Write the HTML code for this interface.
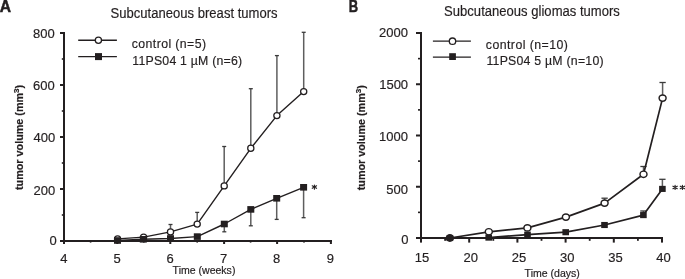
<!DOCTYPE html>
<html><head><meta charset="utf-8"><style>
html,body{margin:0;padding:0;background:#fff;}
body{width:685px;height:279px;overflow:hidden;}
svg{display:block;will-change:transform;font-family:"Liberation Sans",sans-serif;}
text{fill:#231f20;stroke:#231f20;stroke-width:0.18px;}
</style></head><body>
<svg width="685" height="279" viewBox="0 0 685 279">
<rect x="63" y="32" width="2" height="210" fill="#231f20"/>
<rect x="63" y="240" width="269" height="2" fill="#231f20"/>
<rect x="60" y="240.00" width="4" height="2" fill="#231f20"/>
<rect x="60" y="188.00" width="4" height="2" fill="#231f20"/>
<rect x="60" y="136.00" width="4" height="2" fill="#231f20"/>
<rect x="60" y="84.00" width="4" height="2" fill="#231f20"/>
<rect x="60" y="32.00" width="4" height="2" fill="#231f20"/>
<rect x="61.8" y="214.20" width="2" height="1.6" fill="#231f20"/>
<rect x="61.8" y="162.20" width="2" height="1.6" fill="#231f20"/>
<rect x="61.8" y="110.20" width="2" height="1.6" fill="#231f20"/>
<rect x="61.8" y="58.20" width="2" height="1.6" fill="#231f20"/>
<rect x="63.00" y="241" width="2" height="3" fill="#231f20"/>
<rect x="116.30" y="241" width="2" height="3" fill="#231f20"/>
<rect x="169.30" y="241" width="2" height="3" fill="#231f20"/>
<rect x="223.10" y="241" width="2" height="3" fill="#231f20"/>
<rect x="276.10" y="241" width="2" height="3" fill="#231f20"/>
<rect x="329.90" y="241" width="2" height="3" fill="#231f20"/>
<rect x="89.80" y="241" width="1.6" height="1.6" fill="#231f20"/>
<rect x="143.00" y="241" width="1.6" height="1.6" fill="#231f20"/>
<rect x="196.40" y="241" width="1.6" height="1.6" fill="#231f20"/>
<rect x="249.80" y="241" width="1.6" height="1.6" fill="#231f20"/>
<rect x="303.20" y="241" width="1.6" height="1.6" fill="#231f20"/>
<rect x="420" y="32" width="2" height="207" fill="#231f20"/>
<rect x="420" y="237" width="243" height="2" fill="#231f20"/>
<rect x="416" y="237.00" width="5" height="2" fill="#231f20"/>
<rect x="416" y="185.75" width="5" height="2" fill="#231f20"/>
<rect x="416" y="134.50" width="5" height="2" fill="#231f20"/>
<rect x="416" y="83.25" width="5" height="2" fill="#231f20"/>
<rect x="416" y="32.00" width="5" height="2" fill="#231f20"/>
<rect x="418" y="211.57" width="3" height="1.6" fill="#231f20"/>
<rect x="418" y="160.32" width="3" height="1.6" fill="#231f20"/>
<rect x="418" y="109.08" width="3" height="1.6" fill="#231f20"/>
<rect x="418" y="57.83" width="3" height="1.6" fill="#231f20"/>
<rect x="420.00" y="238" width="2" height="4.6" fill="#231f20"/>
<rect x="468.20" y="238" width="2" height="4.6" fill="#231f20"/>
<rect x="516.40" y="238" width="2" height="4.6" fill="#231f20"/>
<rect x="564.60" y="238" width="2" height="4.6" fill="#231f20"/>
<rect x="612.80" y="238" width="2" height="4.6" fill="#231f20"/>
<rect x="661.00" y="238" width="2" height="4.6" fill="#231f20"/>
<rect x="444.20" y="238" width="1.8" height="2.8" fill="#231f20"/>
<rect x="492.40" y="238" width="1.8" height="2.8" fill="#231f20"/>
<rect x="540.60" y="238" width="1.8" height="2.8" fill="#231f20"/>
<rect x="588.80" y="238" width="1.8" height="2.8" fill="#231f20"/>
<rect x="637.00" y="238" width="1.8" height="2.8" fill="#231f20"/>
<line x1="170.5" y1="231.9" x2="170.5" y2="224.5" stroke="#5e5e5e" stroke-width="1.5"/>
<line x1="168.5" y1="224.5" x2="172.5" y2="224.5" stroke="#3a3a3a" stroke-width="1.3"/>
<line x1="197.2" y1="224.1" x2="197.2" y2="212.4" stroke="#5e5e5e" stroke-width="1.5"/>
<line x1="195.2" y1="212.4" x2="199.2" y2="212.4" stroke="#3a3a3a" stroke-width="1.3"/>
<line x1="224.2" y1="185.9" x2="224.2" y2="146.5" stroke="#5e5e5e" stroke-width="1.5"/>
<line x1="222.2" y1="146.5" x2="226.2" y2="146.5" stroke="#3a3a3a" stroke-width="1.3"/>
<line x1="250.8" y1="148.3" x2="250.8" y2="88.7" stroke="#5e5e5e" stroke-width="1.5"/>
<line x1="248.8" y1="88.7" x2="252.8" y2="88.7" stroke="#3a3a3a" stroke-width="1.3"/>
<line x1="276.9" y1="115.6" x2="276.9" y2="55.6" stroke="#5e5e5e" stroke-width="1.5"/>
<line x1="274.9" y1="55.6" x2="278.9" y2="55.6" stroke="#3a3a3a" stroke-width="1.3"/>
<line x1="303.7" y1="91.6" x2="303.7" y2="32.3" stroke="#5e5e5e" stroke-width="1.5"/>
<line x1="301.7" y1="32.3" x2="305.7" y2="32.3" stroke="#3a3a3a" stroke-width="1.3"/>
<line x1="224.3" y1="224.0" x2="224.3" y2="231.8" stroke="#5e5e5e" stroke-width="1.5"/>
<line x1="222.3" y1="231.8" x2="226.3" y2="231.8" stroke="#3a3a3a" stroke-width="1.3"/>
<line x1="250.8" y1="209.4" x2="250.8" y2="225.8" stroke="#5e5e5e" stroke-width="1.5"/>
<line x1="248.8" y1="225.8" x2="252.8" y2="225.8" stroke="#3a3a3a" stroke-width="1.3"/>
<line x1="276.7" y1="198.3" x2="276.7" y2="219.4" stroke="#5e5e5e" stroke-width="1.5"/>
<line x1="274.7" y1="219.4" x2="278.7" y2="219.4" stroke="#3a3a3a" stroke-width="1.3"/>
<line x1="303.6" y1="187.3" x2="303.6" y2="217.7" stroke="#5e5e5e" stroke-width="1.5"/>
<line x1="301.6" y1="217.7" x2="305.6" y2="217.7" stroke="#3a3a3a" stroke-width="1.3"/>
<path d="M117.6,238.9 L143.6,237.1 L170.5,231.9 L197.2,224.1 L224.2,185.9 L250.8,148.3 L276.9,115.6 L303.7,91.6" fill="none" stroke="#231f20" stroke-width="1.4" stroke-linejoin="round"/>
<ellipse cx="117.6" cy="238.9" rx="3.1" ry="3.1" fill="#fff" stroke="#231f20" stroke-width="1.25"/>
<ellipse cx="143.6" cy="237.1" rx="3.1" ry="3.1" fill="#fff" stroke="#231f20" stroke-width="1.25"/>
<ellipse cx="170.5" cy="231.9" rx="3.1" ry="3.1" fill="#fff" stroke="#231f20" stroke-width="1.25"/>
<ellipse cx="197.2" cy="224.1" rx="3.1" ry="3.1" fill="#fff" stroke="#231f20" stroke-width="1.25"/>
<ellipse cx="224.2" cy="185.9" rx="3.1" ry="3.1" fill="#fff" stroke="#231f20" stroke-width="1.25"/>
<ellipse cx="250.8" cy="148.3" rx="3.1" ry="3.1" fill="#fff" stroke="#231f20" stroke-width="1.25"/>
<ellipse cx="276.9" cy="115.6" rx="3.1" ry="3.1" fill="#fff" stroke="#231f20" stroke-width="1.25"/>
<ellipse cx="303.7" cy="91.6" rx="3.1" ry="3.1" fill="#fff" stroke="#231f20" stroke-width="1.25"/>
<path d="M117.5,240.5 L143.3,239.3 L170.5,238.5 L197.3,236.6 L224.3,224.0 L250.8,209.4 L276.7,198.3 L303.6,187.3" fill="none" stroke="#231f20" stroke-width="1.4" stroke-linejoin="round"/>
<rect x="114.00" y="237.20" width="7" height="6.6" fill="#231f20"/>
<rect x="139.80" y="236.00" width="7" height="6.6" fill="#231f20"/>
<rect x="167.00" y="235.20" width="7" height="6.6" fill="#231f20"/>
<rect x="193.80" y="233.30" width="7" height="6.6" fill="#231f20"/>
<rect x="220.80" y="220.70" width="7" height="6.6" fill="#231f20"/>
<rect x="247.30" y="206.10" width="7" height="6.6" fill="#231f20"/>
<rect x="273.20" y="195.00" width="7" height="6.6" fill="#231f20"/>
<rect x="300.10" y="184.00" width="7" height="6.6" fill="#231f20"/>
<line x1="604.6" y1="203.1" x2="604.6" y2="198.2" stroke="#5e5e5e" stroke-width="1.5"/>
<line x1="601.45" y1="198.2" x2="607.75" y2="198.2" stroke="#3a3a3a" stroke-width="1.3"/>
<line x1="643.5" y1="174.3" x2="643.5" y2="166.5" stroke="#5e5e5e" stroke-width="1.5"/>
<line x1="640.35" y1="166.5" x2="646.65" y2="166.5" stroke="#3a3a3a" stroke-width="1.3"/>
<line x1="662.6" y1="98.1" x2="662.6" y2="82.5" stroke="#5e5e5e" stroke-width="1.5"/>
<line x1="659.45" y1="82.5" x2="665.75" y2="82.5" stroke="#3a3a3a" stroke-width="1.3"/>
<line x1="643.4" y1="215.1" x2="643.4" y2="211.0" stroke="#5e5e5e" stroke-width="1.5"/>
<line x1="640.25" y1="211.0" x2="646.55" y2="211.0" stroke="#3a3a3a" stroke-width="1.3"/>
<line x1="662.4" y1="188.9" x2="662.4" y2="179.3" stroke="#5e5e5e" stroke-width="1.5"/>
<line x1="659.25" y1="179.3" x2="665.55" y2="179.3" stroke="#3a3a3a" stroke-width="1.3"/>
<path d="M449.9,238 L488.8,231.8 L527.4,227.9 L565.9,217.1 L604.6,203.1 L643.5,174.3 L662.6,98.1" fill="none" stroke="#231f20" stroke-width="1.7" stroke-linejoin="round"/>
<ellipse cx="449.9" cy="238" rx="3.5" ry="3.2" fill="#fff" stroke="#231f20" stroke-width="1.45"/>
<ellipse cx="488.8" cy="231.8" rx="3.5" ry="3.2" fill="#fff" stroke="#231f20" stroke-width="1.45"/>
<ellipse cx="527.4" cy="227.9" rx="3.5" ry="3.2" fill="#fff" stroke="#231f20" stroke-width="1.45"/>
<ellipse cx="565.9" cy="217.1" rx="3.5" ry="3.2" fill="#fff" stroke="#231f20" stroke-width="1.45"/>
<ellipse cx="604.6" cy="203.1" rx="3.5" ry="3.2" fill="#fff" stroke="#231f20" stroke-width="1.45"/>
<ellipse cx="643.5" cy="174.3" rx="3.5" ry="3.2" fill="#fff" stroke="#231f20" stroke-width="1.45"/>
<ellipse cx="662.6" cy="98.1" rx="3.5" ry="3.2" fill="#fff" stroke="#231f20" stroke-width="1.45"/>
<path d="M449.9,238 L488.7,237.6 L527.5,234.6 L565.7,232.2 L604.5,225 L643.4,215.1 L662.4,188.9" fill="none" stroke="#231f20" stroke-width="1.7" stroke-linejoin="round"/>
<rect x="446.60" y="234.95" width="6.6" height="6.1" fill="#231f20"/>
<rect x="485.40" y="234.55" width="6.6" height="6.1" fill="#231f20"/>
<rect x="524.20" y="231.55" width="6.6" height="6.1" fill="#231f20"/>
<rect x="562.40" y="229.15" width="6.6" height="6.1" fill="#231f20"/>
<rect x="601.20" y="221.95" width="6.6" height="6.1" fill="#231f20"/>
<rect x="640.10" y="212.05" width="6.6" height="6.1" fill="#231f20"/>
<rect x="659.10" y="185.85" width="6.6" height="6.1" fill="#231f20"/>
<line x1="78.2" y1="40.3" x2="116.9" y2="40.3" stroke="#231f20" stroke-width="1.4"/>
<circle cx="98.4" cy="40.3" r="3.1" fill="#fff" stroke="#231f20" stroke-width="1.25"/>
<line x1="78.2" y1="56.6" x2="116.9" y2="56.6" stroke="#231f20" stroke-width="1.4"/>
<rect x="95" y="53.1" width="7" height="7" fill="#231f20"/>
<line x1="432.9" y1="41.1" x2="470.9" y2="41.1" stroke="#231f20" stroke-width="1.4"/>
<circle cx="452.5" cy="41.2" r="3.2" fill="#fff" stroke="#231f20" stroke-width="1.3"/>
<line x1="432.9" y1="57.1" x2="470.9" y2="57.1" stroke="#231f20" stroke-width="1.4"/>
<rect x="449.2" y="53.2" width="6.7" height="6.8" fill="#231f20"/>
<text x="-0.2" y="11.6" font-size="16" font-weight="bold" textLength="11.3" lengthAdjust="spacingAndGlyphs" text-anchor="start" style="stroke-width:0.5px">A</text>
<text x="348.8" y="11.7" font-size="16" font-weight="bold" textLength="9.4" lengthAdjust="spacingAndGlyphs" text-anchor="start" style="stroke-width:0.5px">B</text>
<text transform="translate(110.6,17.6) scale(0.94,1)" font-size="13.9" textLength="177.66" lengthAdjust="spacing">Subcutaneous breast tumors</text>
<text transform="translate(444.1,16.2) scale(0.94,1)" font-size="13.9" textLength="187.02" lengthAdjust="spacing">Subcutaneous gliomas tumors</text>
<text x="54.8" y="38.1" font-size="13" text-anchor="end">800</text>
<text x="54.8" y="90.3" font-size="13" text-anchor="end">600</text>
<text x="55.3" y="142" font-size="13" text-anchor="end">400</text>
<text x="55.3" y="194.5" font-size="13" text-anchor="end">200</text>
<text x="56.699999999999996" y="245" font-size="13" text-anchor="end">0</text>
<text x="407.90000000000003" y="37" font-size="13" text-anchor="end">2000</text>
<text x="408.1" y="89.4" font-size="13" text-anchor="end">1500</text>
<text x="407.90000000000003" y="140.7" font-size="13" text-anchor="end">1000</text>
<text x="407.90000000000003" y="194" font-size="13" text-anchor="end">500</text>
<text x="408.6" y="243.7" font-size="13" text-anchor="end">0</text>
<text x="63.8" y="263" font-size="13" text-anchor="middle">4</text>
<text x="117.2" y="263" font-size="13" text-anchor="middle">5</text>
<text x="170" y="263" font-size="13" text-anchor="middle">6</text>
<text x="223.5" y="263" font-size="13" text-anchor="middle">7</text>
<text x="276.5" y="263" font-size="13" text-anchor="middle">8</text>
<text x="330.4" y="263" font-size="13" text-anchor="middle">9</text>
<text x="422" y="261.6" font-size="13" text-anchor="middle">15</text>
<text x="470.8" y="261.6" font-size="13" text-anchor="middle">20</text>
<text x="518.9" y="261.6" font-size="13" text-anchor="middle">25</text>
<text x="567.3" y="261.6" font-size="13" text-anchor="middle">30</text>
<text x="615.5" y="261.6" font-size="13" text-anchor="middle">35</text>
<text x="663.6" y="261.6" font-size="13" text-anchor="middle">40</text>
<text x="172.6" y="273.7" font-size="10.4" textLength="62.8" lengthAdjust="spacingAndGlyphs" text-anchor="start">Time (weeks)</text>
<text x="524.6" y="277.0" font-size="10.4" textLength="55.2" lengthAdjust="spacingAndGlyphs" text-anchor="start">Time (days)</text>
<text transform="translate(22.9,190.0) rotate(-90)" font-size="10.2" font-weight="bold" textLength="105.2" lengthAdjust="spacingAndGlyphs">tumor volume (mm<tspan font-size="7.6" dy="-4">3</tspan><tspan dy="4">)</tspan></text>
<text transform="translate(365.2,190.3) rotate(-90)" font-size="10.2" font-weight="bold" textLength="105.2" lengthAdjust="spacingAndGlyphs">tumor volume (mm<tspan font-size="7.6" dy="-4">3</tspan><tspan dy="4">)</tspan></text>
<text transform="translate(131.8,48.2) scale(0.94,1)" font-size="13.1" textLength="78.94" lengthAdjust="spacing">control (n=5)</text>
<text transform="translate(132.3,64.7) scale(0.94,1)" font-size="13.1" textLength="116.81" lengthAdjust="spacing">11PS04 1 µM (n=6)</text>
<text transform="translate(485.8,48.8) scale(0.94,1)" font-size="13.1" textLength="87.34" lengthAdjust="spacing">control (n=10)</text>
<text transform="translate(486.4,65) scale(0.94,1)" font-size="13.1" textLength="124.68" lengthAdjust="spacing">11PS04 5 µM (n=10)</text>
<path d="M314.40,185.05L314.40,189.15M312.23,185.85L316.57,188.35M316.57,185.85L312.23,188.35" stroke="#231f20" stroke-width="1.1" stroke-linecap="round" fill="none"/>
<path d="M675.10,185.35L675.10,189.45M672.93,186.15L677.27,188.65M677.27,186.15L672.93,188.65" stroke="#231f20" stroke-width="1.1" stroke-linecap="round" fill="none"/>
<path d="M682.40,185.35L682.40,189.45M680.23,186.15L684.57,188.65M684.57,186.15L680.23,188.65" stroke="#231f20" stroke-width="1.1" stroke-linecap="round" fill="none"/>
</svg>
</body></html>
